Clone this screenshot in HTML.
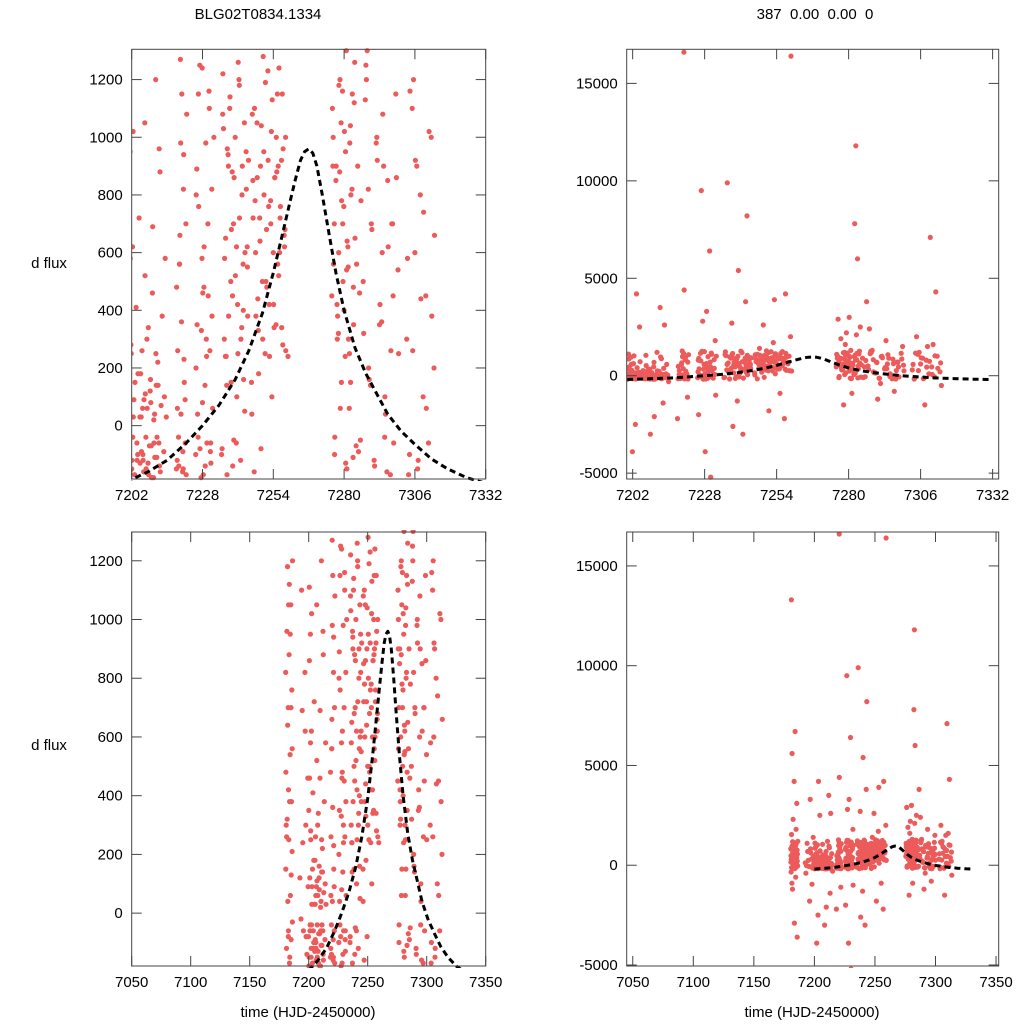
<!DOCTYPE html>
<html><head><meta charset="utf-8"><style>
html,body{margin:0;padding:0;background:#fff;overflow:hidden;width:1024px;height:1024px}
svg{display:block;font-family:"Liberation Sans",sans-serif}
</style></head><body>
<svg id="c" width="1024" height="1024" xmlns="http://www.w3.org/2000/svg">
<text x="258" y="19" font-size="15" text-anchor="middle">BLG02T0834.1334</text>
<text x="815" y="19" font-size="15" text-anchor="middle" xml:space="preserve">387  0.00  0.00  0</text>
<text x="49" y="268" font-size="15" text-anchor="middle">d flux</text>
<text x="49" y="750" font-size="15" text-anchor="middle">d flux</text>
<text x="308" y="1017" font-size="15" text-anchor="middle">time (HJD-2450000)</text>
<text x="812" y="1017" font-size="15" text-anchor="middle">time (HJD-2450000)</text>
</svg>
<script>
// observation times (HJD-2450000)
const times=[7180.5,7180.8,7181.1,7181.3,7181.6,7181.9,7182.2,7182.4,7182.7,7183.0,7183.2,7183.5,7183.8,7184.1,7184.3,7184.6,7184.9,7185.2,7185.5,7185.8,7186.0,7186.3,7181.4,7182.9,7184.0,7185.0,7183.6,7180.9,7181.0,
7193,7194,7195,7196,7196.5,7197,7198,7199,7199.5,7200.2,7200.5,7200.8,7201.1,7201.4,7201.7,7202,7202.3,7202.6,7203,7203.4,7204,7205.3,7205.6,7206,7206.4,7206.8,7207.2,7207.6,7208,7208.4,7208.8,7209.2,7209.6,7210,7210.4,7210.8,7211.2,7211.6,7212,7212.4,7213,7213.5,7214,7215,7201.9,7204.5,7209.8,7211.9,7202.4,7203.2,7204.2,7205.0,7206.2,7207.0,7208.2,7209.0,7210.2,7211.0,7212.2,
7218.4,7218.8,7219.2,7219.6,7220,7220.4,7220.8,7221.2,7221.6,7222,7219.9,7221,7218.2,7220.6,7221.8,7220.5,
7225.5,7226,7226.5,7227,7227.5,7228,7228.5,7229,7229.5,7230,7230.5,7231,7231.5,7226.8,7228.2,7229.8,7230.2,7227.3,7231.8,7225.8,7228.7,7232,
7235,7235.5,7236,7236.5,7237,7237.5,7238,7238.5,7239,7239.5,7240,7240.5,7241,7241.5,7242,7242.5,7243,7243.5,7244,7244.5,7236.2,7238.2,7240.2,7241.8,7243.3,7237.8,7239.8,7242.8,
7246,7246.5,7247,7247.5,7248,7248.5,7249,7249.5,7250,7250.5,7251,7251.5,7252,7252.5,7253,7253.5,7254,7254.5,7255,7255.5,7256,7256.5,7257,7257.5,7258,7258.5,7251.2,7253.2,7255.2,7257.2,7249.2,7259,7256.8,7259.2,7247.8,7252.8,7255.8,
7275.5,7276,7276.5,7277,7277.5,7278,7278.5,7279,7279.5,7280,7280.5,7281,7281.5,7282,7282.5,7283,7283.5,7284,7276.2,7278.2,7280.2,7282.6,7282.2,7283.2,7279.2,7281.2,7277.2,7284.2,7278.8,7280.8,7282.8,
7285,7286,7287,7288,7289,7290,7291,7292,7293,7294,7295,7296,7297,7298,7299,7300,7287.5,7290.5,7293.5,7296.5,7299.5,7286.5,7288.5,7291.5,7294.5,7297.5,
7303,7304,7305,7306,7307,7308,7309,7310,7311,7312,7313,7309.5,7311.5,7304.5,7307.5,7310.5,7313.5,7305.5,7308.5,
7180.6,7180.7,7181.2,7181.5,7181.8,7182.0,7182.3,7182.6,7182.8,7183.1,7183.4,7183.7,7184.2,7184.5,7184.8,7185.1,7185.4,7185.7,7185.9,7186.2,
7199.2,7199.8,7200.1,7200.3,7200.6,7200.9,7201.2,7201.5,7201.8,7202.1,7202.5,7202.8,7203.1,7203.6,7203.9,7204.3,7204.7,7205.1,7205.5,7205.8,7206.1,7206.5,7206.9,7207.3,7207.7,7208.1,7208.5,7208.9,7209.3,7209.7,7210.1,7210.5,7210.9,7211.3,7211.7,7212.1,7212.5,7212.8,7213.2,7213.8,7214.3,7214.7,7195.5,7196.8,7197.5,7198.5,7194.5,7193.5,7192.5,7197.8,
7218.5,7218.9,7219.3,7219.7,7220.1,7220.3,7220.7,7221.1,7221.3,7221.7,7221.9,7222.2,7218.7,7219.5,7220.9,
7225.6,7225.9,7226.2,7226.6,7227.1,7227.6,7227.9,7228.3,7228.6,7228.9,7229.2,7229.6,7230.1,7230.4,7230.7,7231.1,7231.4,7231.7,7232.2,7226.4,7227.8,7229.4,7230.9,7228.1,7225.7,
7235.2,7235.7,7236.1,7236.7,7237.1,7237.6,7238.1,7238.6,7239.1,7239.6,7240.1,7240.6,7241.1,7241.6,7242.1,7242.6,7243.1,7243.6,7244.1,7244.6,7235.4,7236.4,7237.4,7238.4,7239.4,7240.4,7241.4,7242.4,7243.4,7244.4,7236.9,7238.9,7240.9,7242.9,7244.9,
7246.1,7246.6,7247.1,7247.6,7248.1,7248.6,7249.1,7249.6,7250.1,7250.6,7251.1,7251.6,7252.1,7252.6,7253.1,7253.6,7254.1,7254.6,7255.1,7255.6,7256.1,7256.6,7257.1,7257.6,7258.1,7258.6,7246.3,7247.3,7248.3,7249.3,7250.3,7251.3,7252.3,7253.3,7254.3,7255.3,7256.3,7257.3,7258.3,7259.4,
7275.7,7276.1,7276.6,7277.1,7277.6,7278.1,7278.6,7279.1,7279.6,7280.1,7280.6,7281.1,7281.6,7282.1,7282.4,7282.9,7283.4,7283.9,7284.4,7276.4,7277.4,7278.4,7279.4,7280.4,7281.4,7282.3,7283.3,7284.6,7275.9,7277.9,7279.9,7281.9,7283.7,7280.9,7278.9,
7285.3,7286.2,7287.2,7288.2,7289.2,7290.2,7291.2,7292.2,7293.2,7294.2,7295.2,7296.2,7297.2,7298.2,7299.2,7285.7,7287.8,7289.7,7291.8,7293.8,7295.7,7297.8,7299.8,7288.9,7294.9,
7303.3,7304.2,7305.2,7306.2,7307.2,7308.2,7309.2,7310.2,7311.2,7312.2,7313.2,7303.7,7306.7,7309.7,7312.7];
// flux values (d flux)
const fluxes=[820,-340,1540,260,5600,-1200,640,2300,-80,1050,4200,-2900,380,6700,950,-600,1800,130,3100,-3600,560,1200,-900,420,-150,700,1120,300,13300,
-400,1100,240,-1800,3300,620,-950,1400,90,-180,1110,460,-60,950,280,-150,620,30,-2500,4200,-120,180,-90,60,-160,1050,-40,300,-130,-3000,120,-70,460,-180,40,1200,-110,220,-60,880,-1400,2600,100,-300,-3900,2500,-2100,3500,-40,150,-100,30,-120,110,-170,80,-60,140,-140,
-150,60,-40,560,980,1150,-90,230,90,-170,1270,820,-2200,4400,-1100,16600,
-100,350,1150,1250,-180,80,480,-140,240,700,1100,-60,380,9500,-3900,6400,-5200,2800,1800,-2000,3300,-1000,
-100,1220,300,650,-170,900,1100,150,450,-50,1000,620,250,1180,-120,800,400,50,950,550,9900,-2600,5400,-3000,8200,2700,-1300,3800,
150,850,-160,600,1050,330,720,-80,500,950,250,680,1230,420,780,100,600,860,350,1150,520,720,920,280,660,1000,-1800,3900,-900,4200,2600,2000,-2200,16400,1400,1700,900,
450,1000,-100,850,300,600,1200,150,700,400,950,-150,550,250,800,1150,350,650,2900,-1500,3000,11800,7800,6000,2200,-900,1900,2500,1600,1300,2100,
900,-50,500,1250,200,700,-120,1000,350,600,100,850,-170,450,1150,250,2400,-1200,1800,-800,1500,3800,1300,-400,900,700,
300,-100,1100,600,-150,800,100,450,-60,1000,200,7100,4300,2000,-1500,1600,-500,1200,1500,
150,480,-120,960,320,1180,40,700,-60,250,880,-170,540,60,1050,-90,380,760,210,-30,
460,-80,350,-150,860,120,-40,580,250,-120,1020,90,-170,410,-60,180,720,-130,30,260,-100,90,520,-150,60,340,-70,160,-180,690,20,-110,250,-40,140,960,-160,70,380,-90,580,30,-60,820,300,-140,690,-20,
120,-80,480,260,-140,660,40,360,-160,940,150,-60,700,1080,-120,
560,-150,200,890,40,760,-80,330,1240,-170,620,140,980,-60,450,1160,260,-130,820,60,1000,-40,580,300,-90,
460,800,-80,1030,580,240,960,380,1140,680,-140,860,520,100,1260,720,300,900,160,600,820,380,1080,240,940,500,700,-60,1200,340,1050,620,140,880,420,
560,920,40,720,1100,380,860,180,640,1040,300,800,1190,480,920,240,700,1130,420,860,1000,560,1240,760,340,960,620,260,1080,780,440,900,1280,500,760,1020,340,880,600,1150,
680,240,1100,560,-40,900,380,1180,60,780,500,1020,-130,640,300,980,150,820,480,1260,-70,700,420,880,1160,240,620,1040,-110,560,900,320,760,60,1120,
540,1050,-90,780,320,1200,160,680,-140,920,420,1080,40,620,260,-60,860,460,1130,140,980,360,-160,700,540,
820,-40,580,1160,260,920,-120,440,740,60,1020,380,660,-170,900];
const modelT=[7200,7208,7215,7222,7228,7234,7240,7245,7250,7254,7257,7260,7262,7264,7265.5,7267,7268.5,7270,7272,7274,7277,7280,7284,7288,7292,7296,7301,7306,7312,7318,7325,7332];
const modelF=[-195,-160,-120,-60,0,70,160,260,390,530,650,770,850,920,950,960,945,900,800,690,530,400,270,180,110,40,-20,-65,-115,-150,-180,-200];

const xTicksTop=[7202,7228,7254,7280,7306,7332];
const xTicksBot=[7050,7100,7150,7200,7250,7300,7350];
const yTicksLeft=[0,200,400,600,800,1000,1200];
const yTicksRight=[-5000,0,5000,10000,15000];

const NS="http://www.w3.org/2000/svg";
const svg=document.getElementById('c');
function mk(tag,attrs,parent){const e=document.createElementNS(NS,tag);for(const k in attrs)e.setAttribute(k,attrs[k]);(parent||svg).appendChild(e);return e;}

const panels=[
 {id:'top-left',L:131.7,R:485.7,T:49.3,B:479,x0:7202,x1:7332,y0:-185,y1:1305,xt:xTicksTop,yt:yTicksLeft},
 {id:'top-right',L:626.7,R:998.7,T:49.3,B:479,x0:7199.85,x1:7334.2,y0:-5300,y1:16750,xt:xTicksTop,yt:yTicksRight},
 {id:'bottom-left',L:131.7,R:485.7,T:532,B:966,x0:7050,x1:7350,y0:-180,y1:1298,xt:xTicksBot,yt:yTicksLeft},
 {id:'bottom-right',L:626.7,R:998.7,T:532,B:966,x0:7045,x1:7352.2,y0:-5050,y1:16700,xt:xTicksBot,yt:yTicksRight}
];

panels.forEach((p,i)=>{
 const sx=v=>p.L+(v-p.x0)/(p.x1-p.x0)*(p.R-p.L);
 const sy=v=>p.B-(v-p.y0)/(p.y1-p.y0)*(p.B-p.T);
 const g=mk('g',{});
 
 
 const cp=mk('clipPath',{id:'cp'+i},g);
 mk('rect',{x:p.L,y:p.T-2,width:p.R-p.L,height:p.B-p.T+4},cp);
 const pts=mk('g',{'clip-path':'url(#cp'+i+')',fill:'#ec5a5a'},g);
 
 
 for(let k=0;k<times.length;k++){
  const c=mk('circle',{cx:sx(times[k]).toFixed(1),cy:sy(fluxes[k]).toFixed(1),r:2.6},pts);
  
  
 }
 let d='';
 modelT.forEach((t,k)=>{d+=(k?'L':'M')+sx(t).toFixed(1)+','+sy(modelF[k]).toFixed(1);});
 const ln=mk('path',{d:d,fill:'none',stroke:'#000','stroke-width':3,'stroke-dasharray':'6,4','stroke-linejoin':'round','clip-path':'url(#cp'+i+')'},g);
 
 
 const fr=mk('rect',{x:p.L,y:p.T,width:p.R-p.L,height:p.B-p.T,fill:'none',stroke:'#444','stroke-width':1},g);
 
 
 p.xt.forEach(t=>{
  const x=sx(t);
  mk('line',{x1:x,x2:x,y1:p.B,y2:p.B-10,stroke:'#444'},g);
  mk('line',{x1:x,x2:x,y1:p.T,y2:p.T+10,stroke:'#444'},g);
  const tx=mk('text',{x:x,y:p.B+21,'font-size':15,'text-anchor':'middle'},g);
  tx.textContent=t;
  
  
 });
 p.yt.forEach(v=>{
  const y=sy(v);
  mk('line',{x1:p.L,x2:p.L+10,y1:y,y2:y,stroke:'#444'},g);
  mk('line',{x1:p.R,x2:p.R-10,y1:y,y2:y,stroke:'#444'},g);
  const tx=mk('text',{x:p.L-9,y:y+5,'font-size':15,'text-anchor':'end'},g);
  tx.textContent=v;
  
  
 });
});
</script>
</body></html>
